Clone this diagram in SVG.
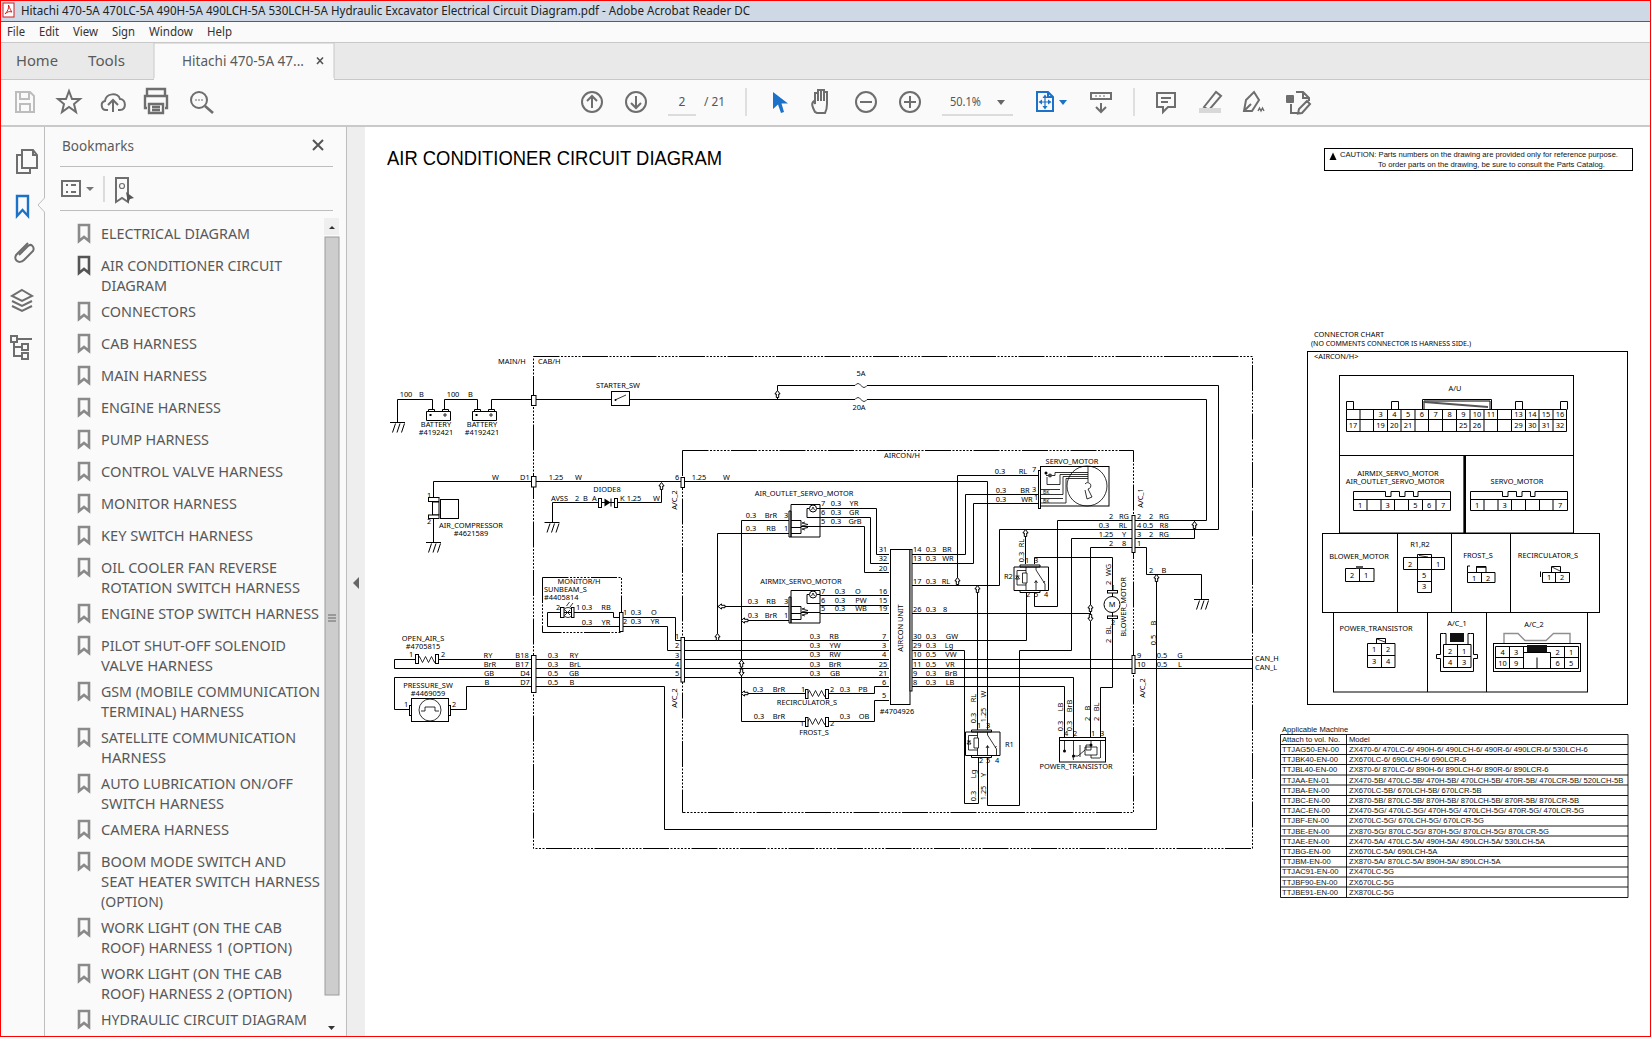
<svg xmlns="http://www.w3.org/2000/svg" xmlns:xlink="http://www.w3.org/1999/xlink" width="1651" height="1037" viewBox="0 0 1651 1037">
<style>
text{font-family:"Noto Sans","DejaVu Sans",sans-serif;font-size:7.4px;fill:#000}
.m{text-anchor:middle}
.e{text-anchor:end}
.w{fill:none;stroke:#000;stroke-width:1}
.b{fill:#fff;stroke:#000;stroke-width:1}
.n{fill:none;stroke:#000;stroke-width:.8}
.f{fill:none;stroke:#000;stroke-width:1;stroke-dasharray:26 1.5 2 1.5 2 1.5 2 1.5 2 1.5 2 1.5 2 1.5}
.ui{font-size:12px;fill:#333}
.uil{font-size:15px;fill:#5a5a5a}
.bm{font-size:15px;fill:#585858}
.ic{fill:none;stroke:#6e6e6e;stroke-width:2}
.icl{fill:none;stroke:#8a8a8a;stroke-width:2.6}
.bl{fill:none;stroke:#1c72c8;stroke-width:2}
.tb{font-family:"Liberation Sans",Arial,sans-serif;font-size:7.65px;fill:#111}
.ca{font-family:"Liberation Sans",Arial,sans-serif;font-size:7.4px;fill:#111}
.g{fill:none;stroke:#bdbdbd;stroke-width:1}
</style>
<defs>
<g id="gnd" class="w"><path d="M-7.5 0H7.5M-2 1L-5 10M2.5 1L-.5 10M7 1L4 10"/></g>
<path id="arr" class="b" stroke-width=".8" d="M0 -3.5L2.6 0H1.2V3.5H-1.2V0H-2.6Z"/>
<path id="zig" class="n" d="M0 0l1.5 -3 3 6 3 -6 3 6 3 -6 3 6 1.5 -3"/>
<path id="bkm" d="M0 0H10V16L5 12L0 16Z"/>
<g id="sv">
<path class="w" d="M0 .5H29V33H0ZM-2 7H0V33H-2ZM16 4.5H18M26 4.5H29M16 4.5V13.5H29M0 16.5H10V29.5H0M10 22.5H29M0 23.5H10"/>
<circle class="b" cx="22" cy="4.5" r="3.5"/>
<path class="n" d="M22 3l-1.500 3M22 3l1.500 3"/>
<path class="n" d="M14 18l-3 1 6 1.500 -6 1.500 6 1.500 -6 1.500 3 1"/>
</g>
<g id="relay">
<path class="w" d="M0 0H34.500V23.500H0ZM6 -2H26V0H6ZM6 23.500H26V25.500H6Z"/>
<path class="n" d="M12 0V6M12 16V23.500M8.500 6H13V16H8.500ZM12 3.500H3V18H12M22 0V3L31 17V23.500M22 23.500V14M20.500 16L22 13.500 23.500 16M29.500 16L31 14"/>
<path d="M1.500 12H5.500L3.500 9ZM1.500 9H5.500" class="n"/>
</g>
</defs>

<!-- window chrome -->
<g id="window">
<rect width="1651" height="1037" fill="#fff"/>
<rect x="0" y="0" width="1651" height="21" fill="#cfd9e5"/>
<rect x="0" y="21" width="1651" height="1" fill="#555c66"/>
<rect x="0" y="22" width="1651" height="20" fill="#fafafa"/>
<rect x="0" y="42" width="1651" height="1" fill="#c8c8c8"/>
<rect x="0" y="43" width="1651" height="36" fill="#e9e9e9"/>
<rect x="0" y="79" width="1651" height="1" fill="#c8c8c8"/>
<rect x="0" y="80" width="1651" height="45" fill="#fafafa"/>
<rect x="0" y="125" width="1651" height="2" fill="#c9c9c9"/>
<path d="M154 79V43H334V79" fill="#fafafa" stroke="#c8c8c8"/>
<rect x="154" y="78" width="180" height="2" fill="#fafafa"/>
<rect x="0" y="127" width="347" height="910" fill="#fafafa"/>
<rect x="347" y="127" width="18" height="910" fill="#eeeeee"/>
<path d="M44.500 127V198L38 205L44.500 212V1037M346.500 127V1037" class="g"/>
<rect x="3" y="3" width="11" height="14" fill="#fff" stroke="#d21f1f"/>
<path d="M5 14C8 11 9 8 8.500 5C10 9 11 11 12 12C9 11 7 12 5 14Z" fill="none" stroke="#d21f1f"/>
<text class="ui" x="21" y="15" textLength="729" lengthAdjust="spacingAndGlyphs" style="fill:#222">Hitachi 470-5A 470LC-5A 490H-5A 490LCH-5A 530LCH-5A Hydraulic Excavator Electrical Circuit Diagram.pdf - Adobe Acrobat Reader DC</text>
<text class="ui" x="7" y="36" textLength="18" lengthAdjust="spacingAndGlyphs">File</text>
<text class="ui" x="39" y="36" textLength="20" lengthAdjust="spacingAndGlyphs">Edit</text>
<text class="ui" x="73" y="36" textLength="25" lengthAdjust="spacingAndGlyphs">View</text>
<text class="ui" x="112" y="36" textLength="23" lengthAdjust="spacingAndGlyphs">Sign</text>
<text class="ui" x="149" y="36" textLength="44" lengthAdjust="spacingAndGlyphs">Window</text>
<text class="ui" x="207" y="36" textLength="25" lengthAdjust="spacingAndGlyphs">Help</text>
<text class="uil" x="16" y="66" textLength="42" lengthAdjust="spacingAndGlyphs">Home</text>
<text class="uil" x="88" y="66" textLength="37" lengthAdjust="spacingAndGlyphs">Tools</text>
<text class="uil" x="182" y="66" textLength="122" lengthAdjust="spacingAndGlyphs" style="font-size:14px">Hitachi 470-5A 47...</text>
<path d="M317 57.500L323 64M323 57.500L317 64" stroke="#555" stroke-width="1.600"/>
</g>

<g id="toolbar">
<path d="M16 92H30L34 96V112H16ZM20 92V99H29V92M20 112V104H30V112" class="g" style="stroke-width:2"/>
<path class="ic" d="M69 91L72 99H80L74 104L76 112L69 107L62 112L64 104L58 99H66Z"/>
<path class="ic" d="M108 110H106C101 110 100 102 105 101C106 93 118 92 120 99C126 99 127 110 120 110H118M113 112V100M108 105L113 100L118 105"/>
<path d="M147 96V89H165V96M147 108H145V96H167V108H165M149 104H163V113H149ZM152 107H160M152 110H160" class="ic" style="stroke-width:2.400"/>
<circle class="ic" cx="199" cy="100" r="8"/><path class="ic" d="M205 106L213 113" style="stroke-width:2.600"/>
<path d="M195 100h2M198 100h2M201 100h2" stroke="#6e6e6e"/>
<circle class="ic" cx="592" cy="102" r="10"/><path class="ic" d="M592 108V96M587 101L592 96L597 101"/>
<circle class="ic" cx="636" cy="102" r="10"/><path class="ic" d="M636 96V108M631 103L636 108L641 103"/>
<text class="ui" x="682" y="106" style="fill:#555;text-anchor:middle">2</text>
<path d="M668 115H696M942 115H1013" stroke="#bdbdbd"/>
<text class="ui" x="704" y="106" textLength="21" lengthAdjust="spacingAndGlyphs" style="fill:#555">/ 21</text>
<path d="M746 88V116M1134 88V116" stroke="#c4c4c4"/>
<path d="M773 92L788 103.500H781.500L784 112L781 113L778 104.500L773 109Z" fill="#1c72c8"/>
<path class="ic" d="M815 112C812 106 811 103 814 101L815 104V93L818 93V101V90H821V101V90H824V101V92H827V104C827 109 826 111 825 113H817Z"/>
<circle class="ic" cx="866" cy="102" r="10"/><path class="ic" d="M860 102H872"/>
<circle class="ic" cx="910" cy="102" r="10"/><path class="ic" d="M904 102H916M910 96V108"/>
<text class="ui" x="950" y="106" textLength="31" lengthAdjust="spacingAndGlyphs" style="fill:#555">50.1%</text>
<path d="M997 100H1005L1001 105Z" fill="#666"/>
<path class="bl" d="M1037 92H1048L1053 97V111H1037ZM1048 92V97H1053"/>
<path class="bl" d="M1045 97V107M1040 102H1050" style="stroke-width:1.200"/>
<path d="M1045 94.500L1047.500 98H1042.500ZM1045 109.500L1047.500 106H1042.500ZM1038.500 102L1042 99.500V104.500ZM1051.500 102L1048 99.500V104.500Z" fill="#1c72c8"/>
<path d="M1059 100H1067L1063 105Z" fill="#1c72c8"/>
<path class="ic" d="M1091 93H1111V99H1091ZM1101 103V112M1096 107L1101 112L1106 107"/>
<path d="M1095 96h2M1099 96h2M1103 96h2" stroke="#6e6e6e"/>
<path class="ic" d="M1157 93H1175V107H1168L1163 112V107H1157ZM1161 98H1171M1161 102H1168"/>
<path class="ic" d="M1204 107L1216 92L1221 96L1209 110Z"/>
<rect x="1199" y="108" width="22" height="5" fill="#d8d8d8"/>
<path class="ic" d="M1254 92L1259 100L1252 111H1244L1246 100ZM1245 110L1251 104"/>
<path d="M1258 111l1.500 -3 1.500 3 1.500 -3 1.500 3" fill="none" stroke="#6e6e6e" stroke-width="1.400"/>
<path class="ic" d="M1291 104V113H1300M1296 92H1303L1309 98V101M1303 92V98H1309M1307 101L1310 104L1302 113L1298 113.500L1299 109Z"/>
<rect x="1286" y="95" width="8" height="8" rx="1" fill="#6e6e6e"/>
</g>

<g id="side-panel">
<path class="ic" d="M22 150H33L37 155V168H22ZM33 150V155H37M22 155H17V173H30V168"/>
<path class="bl" d="M17 196H28V216L22.500 210L17 216Z" style="stroke-width:2.400"/>
<path class="ic" d="M28 243L17 254C12 259 19 265 24 260L33 251C35 247 31 243 28 246L19 255"/>
<path class="ic" d="M22 290L32 296L22 301L12 296ZM12 301L22 306L32 301M12 306L22 311L32 306"/>
<path class="ic" d="M11 336H17V342H11ZM22 344H28V350H22ZM22 353H28V359H22ZM17 339H32M14 342V356H22M14 347H22"/>
<text class="uil" x="62" y="151" textLength="72" lengthAdjust="spacingAndGlyphs">Bookmarks</text>
<path d="M313 140L323 150M323 140L313 150" stroke="#555" stroke-width="2"/>
<path class="g" d="M60 166.500H333M60 210.500H333M104 176V202"/>
<path class="ic" d="M62 181H80V196H62ZM66 185h2M71 185h5M66 192h2M71 192h5"/>
<path d="M86 187H94L90 191Z" fill="#777"/>
<path class="ic" d="M116 178H128V202L122 198L116 202Z"/>
<circle class="ic" cx="122" cy="186" r="2.500" style="stroke-width:1.200"/>
<path d="M126 192L134 198L130 199L128 203Z" fill="#555"/>
<rect x="324" y="218" width="15" height="17" fill="#efefef"/>
<path d="M329 229L332 226L335 229Z" fill="#333"/>
<rect x="325" y="237" width="14" height="758" fill="#cdcdcd" stroke="#9c9c9c"/>
<path d="M328 615h8M328 618h8M328 621h8" stroke="#666"/>
<path d="M328 1026L331.500 1030L335 1026Z" fill="#333"/>
<path d="M359 577V589L353 583Z" fill="#666"/>
</g>

<g id="bookmarks">
<g class="icl">
<use xlink:href="#bkm" x="79" y="225"/><use xlink:href="#bkm" x="79" y="303"/><use xlink:href="#bkm" x="79" y="335"/><use xlink:href="#bkm" x="79" y="367"/><use xlink:href="#bkm" x="79" y="399"/><use xlink:href="#bkm" x="79" y="431"/><use xlink:href="#bkm" x="79" y="463"/><use xlink:href="#bkm" x="79" y="495"/><use xlink:href="#bkm" x="79" y="527"/><use xlink:href="#bkm" x="79" y="559"/><use xlink:href="#bkm" x="79" y="605"/><use xlink:href="#bkm" x="79" y="637"/><use xlink:href="#bkm" x="79" y="683"/><use xlink:href="#bkm" x="79" y="729"/><use xlink:href="#bkm" x="79" y="775"/><use xlink:href="#bkm" x="79" y="821"/><use xlink:href="#bkm" x="79" y="853"/><use xlink:href="#bkm" x="79" y="919"/><use xlink:href="#bkm" x="79" y="965"/><use xlink:href="#bkm" x="79" y="1011"/>
</g>
<use xlink:href="#bkm" x="79" y="257" fill="none" stroke="#555" stroke-width="2.600"/>
<text class="bm" x="101" y="239" textLength="149" lengthAdjust="spacingAndGlyphs">ELECTRICAL DIAGRAM</text>
<text class="bm" x="101" y="271" textLength="181" lengthAdjust="spacingAndGlyphs">AIR CONDITIONER CIRCUIT</text>
<text class="bm" x="101" y="291" textLength="66" lengthAdjust="spacingAndGlyphs">DIAGRAM</text>
<text class="bm" x="101" y="317" textLength="95" lengthAdjust="spacingAndGlyphs">CONNECTORS</text>
<text class="bm" x="101" y="349" textLength="96" lengthAdjust="spacingAndGlyphs">CAB HARNESS</text>
<text class="bm" x="101" y="381" textLength="106" lengthAdjust="spacingAndGlyphs">MAIN HARNESS</text>
<text class="bm" x="101" y="413" textLength="120" lengthAdjust="spacingAndGlyphs">ENGINE HARNESS</text>
<text class="bm" x="101" y="445" textLength="108" lengthAdjust="spacingAndGlyphs">PUMP HARNESS</text>
<text class="bm" x="101" y="477" textLength="182" lengthAdjust="spacingAndGlyphs">CONTROL VALVE HARNESS</text>
<text class="bm" x="101" y="509" textLength="136" lengthAdjust="spacingAndGlyphs">MONITOR HARNESS</text>
<text class="bm" x="101" y="541" textLength="152" lengthAdjust="spacingAndGlyphs">KEY SWITCH HARNESS</text>
<text class="bm" x="101" y="573" textLength="176" lengthAdjust="spacingAndGlyphs">OIL COOLER FAN REVERSE</text>
<text class="bm" x="101" y="593" textLength="199" lengthAdjust="spacingAndGlyphs">ROTATION SWITCH HARNESS</text>
<text class="bm" x="101" y="619" textLength="218" lengthAdjust="spacingAndGlyphs">ENGINE STOP SWITCH HARNESS</text>
<text class="bm" x="101" y="651" textLength="185" lengthAdjust="spacingAndGlyphs">PILOT SHUT-OFF SOLENOID</text>
<text class="bm" x="101" y="671" textLength="112" lengthAdjust="spacingAndGlyphs">VALVE HARNESS</text>
<text class="bm" x="101" y="697" textLength="219" lengthAdjust="spacingAndGlyphs">GSM (MOBILE COMMUNICATION</text>
<text class="bm" x="101" y="717" textLength="143" lengthAdjust="spacingAndGlyphs">TERMINAL) HARNESS</text>
<text class="bm" x="101" y="743" textLength="195" lengthAdjust="spacingAndGlyphs">SATELLITE COMMUNICATION</text>
<text class="bm" x="101" y="763" textLength="65" lengthAdjust="spacingAndGlyphs">HARNESS</text>
<text class="bm" x="101" y="789" textLength="192" lengthAdjust="spacingAndGlyphs">AUTO LUBRICATION ON/OFF</text>
<text class="bm" x="101" y="809" textLength="123" lengthAdjust="spacingAndGlyphs">SWITCH HARNESS</text>
<text class="bm" x="101" y="835" textLength="128" lengthAdjust="spacingAndGlyphs">CAMERA HARNESS</text>
<text class="bm" x="101" y="867" textLength="185" lengthAdjust="spacingAndGlyphs">BOOM MODE SWITCH AND</text>
<text class="bm" x="101" y="887" textLength="219" lengthAdjust="spacingAndGlyphs">SEAT HEATER SWITCH HARNESS</text>
<text class="bm" x="101" y="907" textLength="62" lengthAdjust="spacingAndGlyphs">(OPTION)</text>
<text class="bm" x="101" y="933" textLength="181" lengthAdjust="spacingAndGlyphs">WORK LIGHT (ON THE CAB</text>
<text class="bm" x="101" y="953" textLength="191" lengthAdjust="spacingAndGlyphs">ROOF) HARNESS 1 (OPTION)</text>
<text class="bm" x="101" y="979" textLength="181" lengthAdjust="spacingAndGlyphs">WORK LIGHT (ON THE CAB</text>
<text class="bm" x="101" y="999" textLength="191" lengthAdjust="spacingAndGlyphs">ROOF) HARNESS 2 (OPTION)</text>
<text class="bm" x="101" y="1025" textLength="206" lengthAdjust="spacingAndGlyphs">HYDRAULIC CIRCUIT DIAGRAM</text>
</g>

<g id="page-head">
<text x="387" y="165" textLength="335" lengthAdjust="spacingAndGlyphs" style="font-family:'Liberation Sans',Arial,sans-serif;font-size:20px;fill:#000">AIR CONDITIONER CIRCUIT DIAGRAM</text>
<rect x="1324.500" y="148.500" width="308" height="22" fill="#fff" stroke="#000"/>
<path d="M1333 152.500L1336.500 160H1329.500Z" fill="#000"/>
<text class="ca" x="1340" y="157" textLength="278" lengthAdjust="spacingAndGlyphs">CAUTION: Parts numbers on the drawing are provided only for reference purpose.</text>
<text class="ca" x="1378" y="167" textLength="227" lengthAdjust="spacingAndGlyphs">To order parts on the drawing, be sure to consult the Parts Catalog.</text>
</g>

<g id="frames">
<rect class="f" x="533.500" y="356.500" width="719" height="492"/>
<rect class="f" x="682.500" y="450.500" width="451" height="362"/>
<rect class="f" x="542.500" y="577.500" width="79" height="55"/>
<text x="498" y="364">MAIN/H</text><text x="538" y="364">CAB/H</text>
<text class="m" x="902" y="458">AIRCON/H</text>
<text class="m" x="579" y="584">MONITOR/H</text>
<text class="m" transform="translate(677,500) rotate(-90)">A/C_2</text>
<text class="m" transform="translate(677,698) rotate(-90)">A/C_2</text>
<text class="m" transform="translate(1143,498) rotate(-90)">A/C_1</text>
<text class="m" transform="translate(1145,688) rotate(-90)">A/C_2</text>
</g>

<g id="connectors">
<path class="w" d="M397.500 422V399.500H432.500V410"/>
<path class="w" d="M444.500 410V399.500H477.500V410"/>
<path class="w" d="M491.500 410V399.500H611"/>
<path class="w" d="M630 399.500H855M867 399.500H1206.500V520.500H1135"/>
<path class="w" d="M777.500 399.500V385.500H855M867 385.500H1218.500V529.500H1135"/>
<path class="n" d="M855 385.500q3 -4 6 0t6 0M855 399.500q3 -4 6 0t6 0"/>
<path class="w" d="M433.500 499V481.500H987.500V730"/>
<path class="w" d="M433.500 518V542"/>
<path class="w" d="M552.500 522V502.500H598M618 502.500H661.500V489"/>
<path class="w" d="M574 612.500H613.500V617.500H619M560 612.500H547.500V626.500H619M623 617.500H675.500V640.500H681M623 626.500H667.500V650.500H681"/>
<path class="w" d="M415 659.500H394.500V668.500H889M439 659.500H889M394.500 677.500H889"/>
<path class="w" d="M685 640.500H889M685 650.500H889"/>
<path class="w" d="M394.500 677.500V709.500H409M451 709.500H466.500V686.500H664.500V829.500H1156.500V581"/>
<path class="w" d="M717.500 640.500V533.500H789M717.500 606.500H789"/>
<path class="w" d="M741.500 520.500H789M741.500 520.500V721.500H805M741.500 620.500H789M741.500 693.500H805"/>
<path class="w" d="M829 693.500H874.500V686.500H889M829 721.500H874.500V700.500H889"/>
<path class="w" d="M820 508.500H876.500V554.500H889M820 517.500H870.500V563.500H889M820 526.500H864.500V572.500H889"/>
<path class="w" d="M820 595.500H889M820 605.500H889M820 613.500H889"/>
<path class="w" d="M912 554.500H965.500V494.500H1038M912 563.500H973.500V503.500H1038"/>
<path class="w" d="M912 585.500H999.500V529.500H1132M957.500 585.500V475.500H1038M977.500 585.500V730M1025.500 529.500V564"/>
<path class="w" d="M912 613.500H1090.500M1090.500 547.500V737M1090.500 547.500H1132"/>
<path class="w" d="M912 640.500H1026.500V592M912 650.500H964.500V803.500H978.500V758"/>
<path class="w" d="M912 659.500H1252M912 668.500H1252"/>
<path class="w" d="M912 677.500H1073.500V737M912 686.500H1064.500V737"/>
<path class="w" d="M1034.500 564V557.500H1112.500V592M1034.500 592V606.500H1057.500V520.500H1132"/>
<path class="w" d="M1132 538.500H1071.500V650.500H1019.500V805.500H987.500V758"/>
<path class="w" d="M1112.500 617V687.500H1100.500V737"/>
<path class="w" d="M1135 538.500H1194.500V520.500"/>
<path class="w" d="M1135 547.500H1146.500V574.500H1201.500V599"/>
<use xlink:href="#arr" x="661.500" y="486"/>
<use xlink:href="#arr" x="717.500" y="637"/>
<use xlink:href="#arr" transform="translate(721.500,606.500) rotate(-90)"/>
<use xlink:href="#arr" x="741.500" y="663.500"/>
<use xlink:href="#arr" transform="translate(741.500,672.500) rotate(180)"/>
<use xlink:href="#arr" transform="translate(744.500,620.500) rotate(-90)"/>
<use xlink:href="#arr" transform="translate(744.500,693.500) rotate(-90)"/>
<use xlink:href="#arr" x="957.500" y="581"/>
<use xlink:href="#arr" x="977.500" y="589"/>
<use xlink:href="#arr" x="1025.500" y="533"/>
<use xlink:href="#arr" x="1090.500" y="608"/>
<use xlink:href="#arr" transform="translate(1090.500,618) rotate(180)"/>
<use xlink:href="#arr" x="1156.500" y="578"/>
<use xlink:href="#arr" x="1194.500" y="525"/>
<use xlink:href="#arr" x="777.500" y="394"/>
</g>

<g id="wire-labels">
<text class="m" x="861" y="376">5A</text><text class="m" x="859" y="410">20A</text>
<text class="m" x="406" y="397">100</text><text x="419" y="397">B</text>
<text class="m" x="453" y="397">100</text><text x="468" y="397">B</text>
<text x="492" y="480">W</text><text x="520" y="480">D1</text>
<text class="m" x="556" y="480">1.25</text><text x="575" y="480">W</text>
<text x="675" y="480">6</text>
<text class="m" x="699" y="480">1.25</text><text x="723" y="480">W</text>
<text x="551" y="501">AVSS</text><text x="575" y="501">2</text><text x="583" y="501">B</text><text x="592" y="501">A</text>
<text x="620" y="501">K</text><text class="m" x="634" y="501">1.25</text><text x="653" y="501">W</text>
<text x="556" y="610">2</text><text x="576" y="610">1</text><text class="m" x="587" y="610">0.3</text><text class="m" x="606" y="610">RB</text>
<text class="m" x="587" y="625">0.3</text><text class="m" x="606" y="625">YR</text>
<text x="623" y="615">1</text><text class="m" x="636" y="615">0.3</text><text class="m" x="654" y="615">O</text>
<text x="623" y="624">2</text><text class="m" x="636" y="624">0.3</text><text class="m" x="655" y="624">YR</text>
<text x="675" y="639">1</text><text x="675" y="648">2</text><text x="675" y="658">3</text><text x="675" y="667">4</text><text x="675" y="676">5</text>
<text class="m" x="488" y="658">RY</text><text class="m" x="490" y="667">BrR</text><text class="m" x="489" y="676">GB</text><text class="m" x="487" y="685">B</text>
<text class="m" x="522" y="658">B18</text><text class="m" x="522" y="667">B17</text><text class="m" x="525" y="676">D4</text><text class="m" x="525" y="685">D7</text>
<text class="m" x="553" y="658">0.3</text><text class="m" x="553" y="667">0.3</text><text class="m" x="553" y="676">0.5</text><text class="m" x="553" y="685">0.5</text>
<text class="m" x="574" y="658">RY</text><text class="m" x="575" y="667">BrL</text><text class="m" x="574" y="676">GB</text><text class="m" x="572" y="685">B</text>
<text class="m" x="815" y="639">0.3</text><text class="m" x="834" y="639">RB</text><text class="m" x="884" y="639">7</text>
<text class="m" x="815" y="648">0.3</text><text class="m" x="835" y="648">YW</text><text class="m" x="884" y="648">3</text>
<text class="m" x="815" y="657">0.3</text><text class="m" x="835" y="657">RW</text><text class="m" x="884" y="657">4</text>
<text class="m" x="815" y="667">0.3</text><text class="m" x="835" y="667">BrR</text><text class="m" x="883" y="667">25</text>
<text class="m" x="815" y="676">0.3</text><text class="m" x="835" y="676">GB</text><text class="m" x="883" y="676">21</text>
<text class="m" x="751" y="518">0.3</text><text class="m" x="771" y="518">BrR</text><text class="m" x="786" y="518">3</text>
<text class="m" x="751" y="531">0.3</text><text class="m" x="771" y="531">RB</text><text class="m" x="786" y="531">1</text>
<text class="m" x="753" y="604">0.3</text><text class="m" x="771" y="604">RB</text><text class="m" x="786" y="604">3</text>
<text class="m" x="753" y="618">0.3</text><text class="m" x="771" y="618">BrR</text><text class="m" x="786" y="618">1</text>
<text class="m" x="823" y="506">7</text><text class="m" x="836" y="506">0.3</text><text class="m" x="854" y="506">YR</text>
<text class="m" x="823" y="515">6</text><text class="m" x="836" y="515">0.3</text><text class="m" x="854" y="515">GR</text>
<text class="m" x="823" y="524">5</text><text class="m" x="836" y="524">0.3</text><text class="m" x="855" y="524">GrB</text>
<text class="m" x="823" y="594">7</text><text class="m" x="840" y="594">0.3</text><text class="m" x="858" y="594">O</text>
<text class="m" x="823" y="603">6</text><text class="m" x="840" y="603">0.3</text><text class="m" x="861" y="603">PW</text>
<text class="m" x="823" y="611">5</text><text class="m" x="840" y="611">0.3</text><text class="m" x="861" y="611">WB</text>
<text class="m" x="883" y="552">31</text><text class="m" x="883" y="561">32</text><text class="m" x="883" y="571">20</text>
<text class="m" x="883" y="594">16</text><text class="m" x="883" y="603">15</text><text class="m" x="883" y="611">19</text>
<text class="m" x="884" y="685">6</text><text class="m" x="884" y="698">5</text>
<text class="m" x="758" y="692">0.3</text><text class="m" x="779" y="692">BrR</text><text class="m" x="803" y="692">1</text><text class="m" x="832" y="692">2</text><text class="m" x="845" y="692">0.3</text><text class="m" x="863" y="692">PB</text>
<text class="m" x="759" y="719">0.3</text><text class="m" x="779" y="719">BrR</text><text class="m" x="802" y="726">1</text><text class="m" x="832" y="726">2</text><text class="m" x="845" y="719">0.3</text><text class="m" x="864" y="719">OB</text>
<text x="913" y="552">14</text><text class="m" x="931" y="552">0.3</text><text class="m" x="947" y="552">BR</text>
<text x="913" y="561">13</text><text class="m" x="931" y="561">0.3</text><text class="m" x="948" y="561">WR</text>
<text x="913" y="584">17</text><text class="m" x="931" y="584">0.3</text><text class="m" x="946" y="584">RL</text>
<text x="913" y="612">26</text><text class="m" x="931" y="612">0.3</text><text class="m" x="945" y="612">8</text>
<text x="913" y="639">30</text><text class="m" x="931" y="639">0.3</text><text class="m" x="952" y="639">GW</text>
<text x="913" y="648">29</text><text class="m" x="931" y="648">0.3</text><text class="m" x="949" y="648">Lg</text>
<text x="913" y="657">10</text><text class="m" x="931" y="657">0.5</text><text class="m" x="951" y="657">VW</text>
<text x="913" y="667">11</text><text class="m" x="931" y="667">0.5</text><text class="m" x="950" y="667">VR</text>
<text x="913" y="676">9</text><text class="m" x="931" y="676">0.3</text><text class="m" x="951" y="676">BrB</text>
<text x="913" y="685">8</text><text class="m" x="931" y="685">0.3</text><text class="m" x="950" y="685">LB</text>
<text class="m" x="1000" y="474">0.3</text><text class="m" x="1023" y="474">RL</text><text x="1032" y="472">7</text>
<text class="m" x="1001" y="493">0.3</text><text class="m" x="1025" y="493">BR</text><text x="1032" y="492">3</text>
<text class="m" x="1001" y="502">0.3</text><text class="m" x="1027" y="502">WR</text><text x="1034" y="500">1</text>
<text class="m" x="1111" y="519">2</text><text class="m" x="1124" y="519">RG</text>
<text class="m" x="1104" y="528">0.3</text><text class="m" x="1123" y="528">RL</text>
<text class="m" x="1106" y="537">1.25</text><text class="m" x="1124" y="537">Y</text>
<text class="m" x="1111" y="546">2</text><text class="m" x="1124" y="546">8</text>
<text x="1137" y="519">2</text><text class="m" x="1151" y="519">2</text><text class="m" x="1164" y="519">RG</text>
<text x="1137" y="528">4</text><text class="m" x="1148" y="528">0.5</text><text class="m" x="1164" y="528">R8</text>
<text x="1137" y="537">3</text><text class="m" x="1151" y="537">2</text><text class="m" x="1164" y="537">RG</text>
<text x="1137" y="546">1</text>
<text class="m" x="1151" y="573">2</text><text class="m" x="1164" y="573">B</text>
<text x="1137" y="658">9</text><text class="m" x="1162" y="658">0.5</text><text class="m" x="1180" y="658">G</text>
<text x="1137" y="667">10</text><text class="m" x="1162" y="667">0.5</text><text class="m" x="1180" y="667">L</text>
<text x="1255" y="661">CAN_H</text><text x="1255" y="670">CAN_L</text>
<text class="m" transform="translate(1024,543) rotate(-90)">RL</text><text class="m" transform="translate(1024,557) rotate(-90)">0.3</text>
<text class="m" transform="translate(1111,570) rotate(-90)">WG</text><text class="m" transform="translate(1111,583) rotate(-90)">2</text>
<text class="m" transform="translate(1111,630) rotate(-90)">BL</text><text class="m" transform="translate(1111,641) rotate(-90)">2</text>
<text class="m" transform="translate(1156,623) rotate(-90)">B</text><text class="m" transform="translate(1156,640) rotate(-90)">0.5</text>
<text class="m" transform="translate(976,698) rotate(-90)">RL</text><text class="m" transform="translate(976,718) rotate(-90)">0.3</text>
<text class="m" transform="translate(986,694) rotate(-90)">W</text><text class="m" transform="translate(986,715) rotate(-90)">1.25</text>
<text class="m" transform="translate(976,774) rotate(-90)">Lg</text><text class="m" transform="translate(976,796) rotate(-90)">0.3</text>
<text class="m" transform="translate(986,775) rotate(-90)">Y</text><text class="m" transform="translate(986,793) rotate(-90)">1.25</text>
<text class="m" transform="translate(1063,707) rotate(-90)">LB</text><text class="m" transform="translate(1063,726) rotate(-90)">0.3</text>
<text class="m" transform="translate(1072,706) rotate(-90)">BrB</text><text class="m" transform="translate(1072,726) rotate(-90)">0.3</text>
<text class="m" transform="translate(1090,708) rotate(-90)">B</text><text class="m" transform="translate(1090,719) rotate(-90)">2</text>
<text class="m" transform="translate(1099,707) rotate(-90)">BL</text><text class="m" transform="translate(1099,719) rotate(-90)">2</text>
</g>

<g id="gnd-battery"><use xlink:href="#gnd" x="397.500" y="422.500"/></g>
<g id="gnd-compressor"><use xlink:href="#gnd" x="433.500" y="542.500"/></g>
<g id="gnd-diode"><use xlink:href="#gnd" x="552" y="522.500"/></g>
<g id="gnd-blower"><use xlink:href="#gnd" x="1201.500" y="599.500"/></g>

<g id="connector-main">
<rect class="b" x="531.500" y="395.500" width="4.500" height="10"/>
<rect class="b" x="531.500" y="476.500" width="4.500" height="10.500"/>
<rect class="b" x="531.500" y="655.500" width="4.500" height="37"/>
</g>
<g id="connector-ac">
<rect class="b" x="681" y="477.500" width="3.500" height="10"/>
<rect class="b" x="681" y="637.500" width="3.500" height="44.500"/>
<rect class="b" x="1132" y="515.500" width="3" height="37"/>
<rect class="b" x="1132" y="655.500" width="3" height="18"/>
</g>

<g id="battery-1">
<path class="b" d="M426.500 411.500H450.500V420.500H426.500ZM428.500 409.500H434.500V411.500H428.500ZM442.500 409.500H448.500V411.500H442.500Z"/>
<rect x="429.500" y="414" width="2" height="2" fill="#000"/>
<path class="n" d="M443 415h4M445 413v4"/>
<text class="m" x="436" y="427">BATTERY</text><text class="m" x="436" y="435">#4192421</text>
</g>
<g id="battery-2">
<path class="b" d="M472.500 411.500H496.500V420.500H472.500ZM474.500 409.500H480.500V411.500H474.500ZM488.500 409.500H494.500V411.500H488.500Z"/>
<rect x="475.500" y="414" width="2" height="2" fill="#000"/>
<path class="n" d="M489 415h4M491 413v4"/>
<text class="m" x="482" y="427">BATTERY</text><text class="m" x="482" y="435">#4192421</text>
</g>
<g id="starter-sw">
<rect class="b" x="611.500" y="391.500" width="18" height="14"/>
<path class="n" d="M615 400L626 395"/><circle cx="615.500" cy="400" r="1" fill="#000"/>
<text class="m" x="618" y="388">STARTER_SW</text>
</g>
<g id="air-compressor">
<rect class="b" x="440.500" y="499.500" width="18" height="19"/>
<path class="b" d="M432.500 502V515H439V502Z"/>
<rect class="b" x="428.500" y="497.500" width="10.500" height="4"/>
<rect class="b" x="428.500" y="515" width="10.500" height="3.500"/>
<text x="427" y="498">1</text><text x="427" y="524">2</text>
<text class="m" x="471" y="528">AIR_COMPRESSOR</text><text class="m" x="471" y="536">#4621589</text>
</g>
<g id="diode8">
<rect class="b" x="598.500" y="498.500" width="3" height="9"/>
<rect class="b" x="614.500" y="498.500" width="3" height="9"/>
<path d="M601 502.500H614.500" class="w"/>
<path d="M604.500 498.500L610.500 502.500L604.500 506.500Z" fill="#000"/><path class="w" d="M611 498.500V506.500"/>
<text class="m" x="607" y="492">DIODE8</text>
</g>
<g id="sunbeam-s">
<text x="544" y="592">SUNBEAM_S</text><text x="544" y="600">#4405814</text>
<circle class="n" cx="568" cy="612.500" r="5"/>
<rect class="b" x="560.500" y="607.500" width="3.500" height="10"/>
<rect class="b" x="571.500" y="607.500" width="2.500" height="10"/>
<path class="w" d="M564 612.500H571.500"/>
<path class="n" d="M570 607l3 -4M566.500 606l3 -4M565 610L570 615M565 615L570 610"/>
</g>
<g id="connector-monitor"><rect class="b" x="619.500" y="612.500" width="3.500" height="19"/></g>
<g id="open-air-s">
<text class="m" x="423" y="641">OPEN_AIR_S</text><text class="m" x="423" y="649">#4705815</text>
<text x="409" y="657">1</text><text x="441" y="657">2</text>
<use xlink:href="#zig" x="418" y="659.500"/>
<rect class="b" x="415.500" y="654.500" width="3" height="9"/>
<rect class="b" x="435.500" y="654.500" width="3" height="9"/>
</g>
<g id="pressure-sw">
<text class="m" x="428" y="688">PRESSURE_SW</text><text class="m" x="428" y="696">#4469059</text>
<text x="404" y="707">1</text><text x="452" y="707">2</text>
<rect class="b" x="411.500" y="698.500" width="37" height="23"/>
<rect class="b" x="409.500" y="705.500" width="2" height="10"/>
<rect class="b" x="448.500" y="705.500" width="2" height="10"/>
<circle class="n" cx="430" cy="710" r="11"/>
<path class="n" d="M421 711H425V707H435V711H439"/>
</g>
<g id="air-outlet-servo-motor">
<text class="m" x="804" y="496">AIR_OUTLET_SERVO_MOTOR</text>
<use xlink:href="#sv" x="791" y="504"/>
</g>
<g id="airmix-servo-motor">
<text class="m" x="801" y="584">AIRMIX_SERVO_MOTOR</text>
<use xlink:href="#sv" x="791" y="590"/>
</g>
<g id="recirculator-s">
<use xlink:href="#zig" x="808" y="693.500"/>
<rect class="b" x="805.500" y="689.500" width="2.500" height="9"/>
<rect class="b" x="825.500" y="689.500" width="3" height="9"/>
<text class="m" x="807" y="705">RECIRCULATOR_S</text>
</g>
<g id="frost-s">
<use xlink:href="#zig" x="808" y="721.500"/>
<rect class="b" x="805.500" y="717.500" width="2.500" height="9"/>
<rect class="b" x="825.500" y="717.500" width="3" height="9"/>
<text class="m" x="814" y="735">FROST_S</text>
</g>
<g id="aircon-unit">
<rect class="b" x="890.500" y="549.500" width="19.500" height="155"/>
<rect class="b" x="910" y="549.500" width="2" height="141.500"/>
<text class="m" transform="translate(903,628) rotate(-90)">AIRCON UNIT</text>
<text class="m" x="897" y="714">#4704926</text>
</g>
<g id="servo-motor">
<text class="m" x="1072" y="464">SERVO_MOTOR</text>
<rect class="b" x="1040.500" y="466.500" width="68.500" height="39.500"/>
<rect class="b" x="1038.500" y="470.500" width="2" height="38"/>
<circle class="n" cx="1087" cy="486" r="20"/>
<path class="n" d="M1046 475.500H1055V472.500H1088M1047 477V484.500H1060V474.500H1088M1041 489.500H1060M1041 494.500H1063V476.500H1088M1041 498.500H1063M1041 503H1066V478.500H1088M1088 467V482"/>
<path class="n" d="M1085 484a3.200 3.200 0 1 1 3 5L1092 497L1087 499L1085 490"/>
<circle cx="1046" cy="473" r="1.500" fill="#000"/><circle cx="1050" cy="475.500" r="2" fill="#444"/>
<text x="1043" y="494" style="font-size:5px">BK</text><text x="1043" y="503" style="font-size:5px">BK</text>
</g>
<g id="r2">
<use xlink:href="#relay" x="1014" y="567"/>
<text x="1004" y="579">R2</text>
<text x="1025" y="563">1</text><text x="1034" y="563">3</text>
<text x="1026" y="597">2</text><text x="1034" y="597">5</text><text x="1044" y="597">4</text>
</g>
<g id="r1">
<use xlink:href="#relay" x="965.500" y="732"/>
<text x="1005" y="747">R1</text>
<text x="977" y="728">1</text><text x="986" y="728">3</text>
<text x="979" y="763">2</text><text x="986" y="763">5</text><text x="995" y="763">4</text>
</g>
<g id="blower-motor">
<rect class="b" x="1107.500" y="590.500" width="10" height="2.500"/>
<rect class="b" x="1107.500" y="616" width="10" height="2.500"/>
<path class="w" d="M1112.500 593V617"/>
<circle class="b" cx="1112" cy="604.500" r="8"/>
<text class="m" x="1112" y="607">M</text>
<text x="1111" y="590">1</text><text x="1111" y="625">2</text>
<text class="m" transform="translate(1126,607) rotate(-90)">BLOWER_MOTOR</text>
</g>
<g id="power-transistor">
<rect class="b" x="1059.500" y="737.500" width="46" height="24.500"/>
<path class="w" d="M1059.500 740.500H1105.500"/>
<path class="n" d="M1064.500 740.500V752M1073.500 740.500V756H1078L1085 750M1091 740.500V746M1100.500 740.500V758M1073 756l.5 4M1080 745V757M1085 747H1097V755H1085ZM1091 755V758H1100M1086 745H1091V750H1086Z"/>
<circle cx="1064.500" cy="751" r="1.500" fill="#000"/><circle cx="1073.500" cy="756" r="1.500" fill="#000"/><circle cx="1091" cy="745" r="1.500" fill="#000"/>
<text x="1064" y="736">4</text><text x="1073" y="736">2</text><text x="1091" y="736">1</text><text x="1100" y="736">3</text>
<text class="m" x="1076" y="769">POWER_TRANSISTOR</text>
</g>

<g id="connector-chart">
<text x="1314" y="337">CONNECTOR CHART</text>
<text x="1311" y="346" textLength="160" lengthAdjust="spacingAndGlyphs">(NO COMMENTS CONNECTOR IS HARNESS SIDE.)</text>
<rect class="w" x="1307.500" y="351.500" width="320" height="353"/>
<text x="1314" y="359">&lt;AIRCON/H&gt;</text>
</g>
<g id="chart-au">
<rect class="b" x="1339.500" y="375.500" width="234" height="80"/>
<text class="m" x="1455" y="391">A/U</text>
<path class="w" d="M1346.500 409.500V401.500H1353.500V409.500M1391.500 409.500V401.500H1398.500V409.500M1515.500 409.500V401.500H1522.500V409.500M1560.500 409.500V401.500H1567.500V409.500M1422.500 409.500V399.500H1491.500V409.500M1424 409.500V401H1490V409.500"/>
<path d="M1424 401L1488 406V408L1424 403Z" fill="#555"/>
<path class="w" d="M1346.500 409.500H1566.500V431.500H1346.500ZM1346.500 419.500H1566.500M1360 409.500V431.500M1373.500 409.500V431.500M1387.500 409.500V431.500M1401 409.500V431.500M1415 409.500V431.500M1428.500 409.500V431.500M1442.500 409.500V431.500M1456.500 409.500V431.500M1470 409.500V431.500M1484 409.500V431.500M1497.500 409.500V431.500M1511.500 409.500V431.500M1525.500 409.500V431.500M1539 409.500V431.500M1553 409.500V431.500"/>
<text class="m" x="1380.500" y="417">3</text><text class="m" x="1394.300" y="417">4</text><text class="m" x="1408.100" y="417">5</text><text class="m" x="1421.900" y="417">6</text><text class="m" x="1435.700" y="417">7</text><text class="m" x="1449.500" y="417">8</text><text class="m" x="1463.300" y="417">9</text><text class="m" x="1477.100" y="417">10</text><text class="m" x="1490.900" y="417">11</text><text class="m" x="1518.500" y="417">13</text><text class="m" x="1532.300" y="417">14</text><text class="m" x="1546.100" y="417">15</text><text class="m" x="1559.900" y="417">16</text>
<text class="m" x="1352.900" y="428">17</text><text class="m" x="1380.500" y="428">19</text><text class="m" x="1394.300" y="428">20</text><text class="m" x="1408.100" y="428">21</text><text class="m" x="1463.300" y="428">25</text><text class="m" x="1477.100" y="428">26</text><text class="m" x="1518.500" y="428">29</text><text class="m" x="1532.300" y="428">30</text><text class="m" x="1546.100" y="428">31</text><text class="m" x="1559.900" y="428">32</text>
</g>
<g id="chart-airmix">
<rect class="w" x="1339.500" y="455.500" width="124.500" height="77.500"/>
<text class="m" x="1398" y="476">AIRMIX_SERVO_MOTOR</text><text class="m" x="1395" y="484">AIR_OUTLET_SERVO_MOTOR</text>
<path class="w" d="M1353.500 491.500H1385.500V496.500H1391V491.500H1399.500V496.500H1405V491.500H1413.500V496.500H1418V491.500H1450.500V510.500H1353.500ZM1353.500 499.500H1450.500M1367 499.500V510.500M1381 499.500V510.500M1394.500 499.500V510.500M1408.500 499.500V510.500M1422.500 499.500V510.500M1436 499.500V510.500"/>
<text class="m" x="1360" y="508">1</text><text class="m" x="1387.500" y="508">3</text><text class="m" x="1415.400" y="508">5</text><text class="m" x="1429" y="508">6</text><text class="m" x="1443" y="508">7</text>
</g>
<g id="chart-servo">
<rect class="w" x="1465.500" y="455.500" width="108" height="77.500"/>
<path d="M1464.500 455V533" stroke="#000" stroke-width="1.600"/>
<text class="m" x="1517" y="484">SERVO_MOTOR</text>
<path class="w" d="M1470.500 491.500H1502.500V496.500H1508V491.500H1516.500V496.500H1522V491.500H1530.500V496.500H1535V491.500H1567.500V510.500H1470.500ZM1470.500 499.500H1567.500M1484 499.500V510.500M1498 499.500V510.500M1511.500 499.500V510.500M1525.500 499.500V510.500M1539.500 499.500V510.500M1553 499.500V510.500"/>
<text class="m" x="1477" y="508">1</text><text class="m" x="1504.500" y="508">3</text><text class="m" x="1560" y="508">7</text>
</g>
<g id="chart-row2">
<rect class="b" x="1322.500" y="533.500" width="277" height="79"/>
<path class="w" d="M1397.500 533.500V612.500M1451.500 533.500V612.500M1510.500 533.500V612.500"/>
<text class="m" x="1359" y="559">BLOWER_MOTOR</text>
<path class="w" d="M1345.500 568.500H1374V581.500H1345.500ZM1359.500 568.500V581.500"/>
<rect x="1356" y="566" width="7" height="2.500" fill="#555"/>
<text class="m" x="1352" y="578">2</text><text class="m" x="1366" y="578">1</text>
<text class="m" x="1420" y="547">R1,R2</text>
<path class="w" d="M1417.500 554.500H1431.500V592.500H1417.500ZM1403.500 557.500H1444.500V569.500H1403.500ZM1417.500 581.500H1431.500M1417.500 569.500H1431.500"/>
<path class="n" d="M1419 555.500L1428 557"/>
<text class="m" x="1410" y="567">2</text><text class="m" x="1438" y="567">1</text><text class="m" x="1424" y="578">5</text><text class="m" x="1424" y="589">3</text>
<text class="m" x="1478" y="558">FROST_S</text>
<path class="w" d="M1467.500 572.500H1495V582.500H1467.500ZM1481.500 572.500V582.500M1467.500 572.500V566H1470M1476.500 572.500V566.500H1486V572.500"/>
<rect x="1476.500" y="566" width="9.500" height="1.800" fill="#000"/>
<text class="m" x="1474" y="581">1</text><text class="m" x="1488" y="581">2</text>
<text class="m" x="1548" y="558">RECIRCULATOR_S</text>
<path class="w" d="M1542.500 572.500H1569.500V582.500H1542.500ZM1555.500 572.500V582.500M1551.500 572.500V566.500H1560.500V572.500M1540.500 571.500V577"/>
<path class="n" d="M1552 567L1560 571"/>
<text class="m" x="1549" y="580">1</text><text class="m" x="1562" y="580">2</text>
</g>
<g id="chart-row3">
<rect class="b" x="1333.500" y="612.500" width="254" height="79.500"/>
<path class="w" d="M1427.500 612.500V692M1486.500 612.500V692"/>
<text class="m" x="1376" y="631">POWER_TRANSISTOR</text>
<path class="w" d="M1367.500 643.500H1395V667.500H1367.500ZM1381.500 643.500V667.500M1367.500 655.500H1395M1376.500 643.500V638.500H1385.500V643.500"/>
<path class="n" d="M1377 639L1385 642"/>
<text class="m" x="1374" y="652">1</text><text class="m" x="1388" y="652">2</text><text class="m" x="1374" y="664">3</text><text class="m" x="1388" y="664">4</text>
<text class="m" x="1457" y="626">A/C_1</text>
<path class="w" d="M1443.500 633.500H1440.500V654.500H1436.500V658.500H1440.500V671.500H1473.500V658.500H1477.500V654.500H1473.500V633.500H1470.500M1443.500 633.500H1446V644.500M1468 633.500H1470.500M1468 633.500V644.500M1443.500 644.500H1471V667.500H1443.500ZM1457.500 644.500V667.500M1443.500 656.500H1471"/>
<rect x="1450" y="633" width="14" height="9" fill="#111"/>
<text class="m" x="1450" y="654">2</text><text class="m" x="1464" y="654">1</text><text class="m" x="1450" y="665">4</text><text class="m" x="1464" y="665">3</text>
<text class="m" x="1534" y="627">A/C_2</text>
<path d="M1504 643V633.500H1518L1525 640.500H1546L1553.500 633.500H1570V643" fill="none" stroke="#8f8f8f" stroke-width="1.400"/>
<rect class="w" x="1493.500" y="643.500" width="87" height="28"/>
<path class="w" d="M1495.500 646.500H1578.500V668.500H1495.500ZM1495.500 657.500H1523.500M1523.500 652.500H1550.500V668.500M1523.500 646.500V668.500M1537 657.500V668.500M1550.500 657.500H1578.500M1564.500 646.500V668.500M1509.500 646.500V668.500"/>
<rect x="1527" y="645" width="20" height="7" fill="#111"/>
<text class="m" x="1502.500" y="655">4</text><text class="m" x="1516" y="655">3</text><text class="m" x="1557.500" y="655">2</text><text class="m" x="1571" y="655">1</text>
<text class="m" x="1502.500" y="666">10</text><text class="m" x="1516" y="666">9</text><text class="m" x="1557.500" y="666">6</text><text class="m" x="1571" y="666">5</text>
</g>

<g id="applicable-machine">
<text class="tb" x="1282" y="732">Applicable Machine</text>
<path class="w" d="M1280.500 734.500H1628V897.500H1280.500ZM1346.500 734.500V897.500M1280.500 744.500H1628M1280.500 754.500H1628M1280.500 764.500H1628M1280.500 775H1628M1280.500 785H1628M1280.500 795.500H1628M1280.500 805.500H1628M1280.500 815.500H1628M1280.500 826H1628M1280.500 836H1628M1280.500 846.500H1628M1280.500 856.500H1628M1280.500 867H1628M1280.500 877H1628M1280.500 887H1628" style="stroke-width:.9"/>
<text class="tb" x="1282" y="742">Attach to vol. No.</text><text class="tb" x="1349" y="742">Model</text>
<text class="tb" x="1282" y="752">TTJAG50-EN-00</text><text class="tb" x="1349" y="752">ZX470-6/ 470LC-6/ 490H-6/ 490LCH-6/ 490R-6/ 490LCR-6/ 530LCH-6</text>
<text class="tb" x="1282" y="762.200">TTJBK40-EN-00</text><text class="tb" x="1349" y="762.200">ZX670LC-6/ 690LCH-6/ 690LCR-6</text>
<text class="tb" x="1282" y="772.400">TTJBL40-EN-00</text><text class="tb" x="1349" y="772.400">ZX870-6/ 870LC-6/ 890H-6/ 890LCH-6/ 890R-6/ 890LCR-6</text>
<text class="tb" x="1282" y="782.600">TTJAA-EN-01</text><text class="tb" x="1349" y="782.600">ZX470-5B/ 470LC-5B/ 470H-5B/ 470LCH-5B/ 470R-5B/ 470LCR-5B/ 520LCH-5B</text>
<text class="tb" x="1282" y="792.800">TTJBA-EN-00</text><text class="tb" x="1349" y="792.800">ZX670LC-5B/ 670LCH-5B/ 670LCR-5B</text>
<text class="tb" x="1282" y="803">TTJBC-EN-00</text><text class="tb" x="1349" y="803">ZX870-5B/ 870LC-5B/ 870H-5B/ 870LCH-5B/ 870R-5B/ 870LCR-5B</text>
<text class="tb" x="1282" y="813.200">TTJAC-EN-00</text><text class="tb" x="1349" y="813.200">ZX470-5G/ 470LC-5G/ 470H-5G/ 470LCH-5G/ 470R-5G/ 470LCR-5G</text>
<text class="tb" x="1282" y="823.400">TTJBF-EN-00</text><text class="tb" x="1349" y="823.400">ZX670LC-5G/ 670LCH-5G/ 670LCR-5G</text>
<text class="tb" x="1282" y="833.600">TTJBE-EN-00</text><text class="tb" x="1349" y="833.600">ZX870-5G/ 870LC-5G/ 870H-5G/ 870LCH-5G/ 870LCR-5G</text>
<text class="tb" x="1282" y="843.800">TTJAE-EN-00</text><text class="tb" x="1349" y="843.800">ZX470-5A/ 470LC-5A/ 490H-5A/ 490LCH-5A/ 530LCH-5A</text>
<text class="tb" x="1282" y="854">TTJBG-EN-00</text><text class="tb" x="1349" y="854">ZX670LC-5A/ 690LCH-5A</text>
<text class="tb" x="1282" y="864.200">TTJBM-EN-00</text><text class="tb" x="1349" y="864.200">ZX870-5A/ 870LC-5A/ 890H-5A/ 890LCH-5A</text>
<text class="tb" x="1282" y="874.400">TTJAC91-EN-00</text><text class="tb" x="1349" y="874.400">ZX470LC-5G</text>
<text class="tb" x="1282" y="884.600">TTJBF90-EN-00</text><text class="tb" x="1349" y="884.600">ZX670LC-5G</text>
<text class="tb" x="1282" y="894.800">TTJBE91-EN-00</text><text class="tb" x="1349" y="894.800">ZX870LC-5G</text>
</g>

<rect id="red-border" x=".5" y=".5" width="1650" height="1036" fill="none" stroke="#f00"/>
</svg>
